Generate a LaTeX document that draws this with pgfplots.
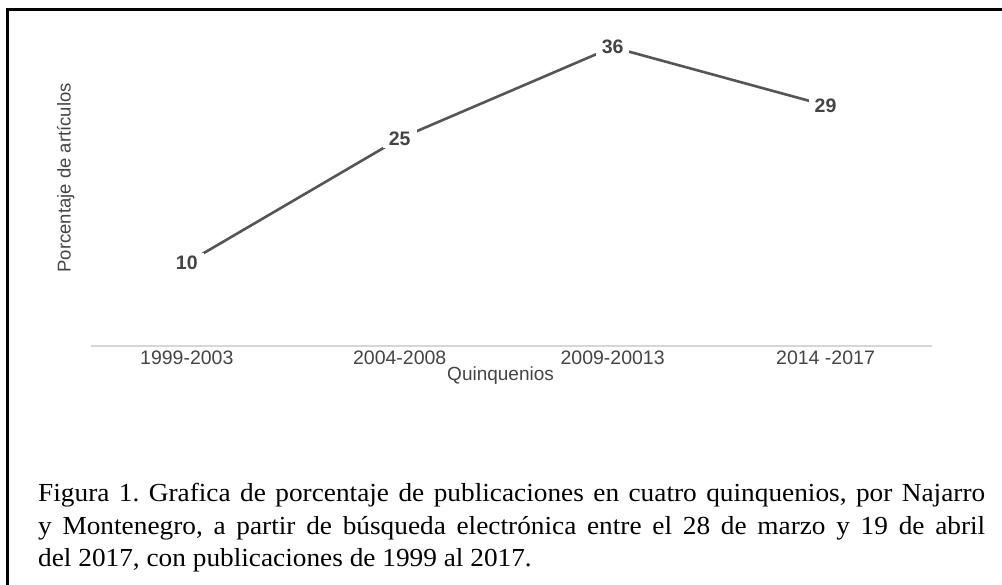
\documentclass[border=0pt]{standalone}
\usepackage{fontspec}
\setmainfont{Liberation Serif}
\setsansfont{Liberation Sans}
\newfontfamily\capfont[FakeStretch=1.05]{Liberation Serif}
\usepackage{pgfplots}
\pgfplotsset{compat=1.18}
\definecolor{linegray}{HTML}{555555}
\definecolor{labgray}{HTML}{444444}
\definecolor{basegray}{HTML}{D6D6D6}
\frenchspacing
\begin{document}
\begin{tikzpicture}
  \useasboundingbox (0pt,0pt) rectangle (1002pt,585pt);
  % marco de la figura
  \draw[black, line width=3pt] (7pt,0pt) -- (7pt,575pt) -- (1004pt,575pt);
  \begin{axis}[
      at={(91pt,239pt)}, anchor=south west,
      scale only axis,
      width=841pt, height=315.4pt,
      xmin=-0.45, xmax=3.5,
      ymin=0, ymax=38,
      axis x line*=bottom,
      axis y line*=left,
      x axis line style={draw=basegray, line width=1.3pt, -},
      y axis line style={draw=none},
      xtick={0,1,2,3},
      xticklabels={1999-2003,2004-2008,2009-20013,2014 -2017},
      xtick style={draw=none},
      ytick=\empty,
      /pgf/number format/assume math mode=true,
      xticklabel style={font=\sffamily\fontsize{19.5}{22}\selectfont, text=labgray, yshift=-1pt},
      xlabel={Quinquenios},
      xlabel style={at={(rel axis cs:0.487,0)}, anchor=center, yshift=-30pt,
        font=\sffamily\fontsize{19}{22}\selectfont, text=labgray},
      ylabel={Porcentaje de artículos},
      ylabel style={at={(rel axis cs:-0.030,0.533)}, anchor=center,
        font=\sffamily\fontsize{18.5}{22}\selectfont, text=labgray},
      clip=false,
    ]
    \addplot[color=linegray, line width=2.6pt,
      nodes near coords,
      every node near coord/.append style={anchor=center, fill=white,
        inner xsep=6pt, inner ysep=3pt,
        font=\sffamily\bfseries\fontsize{19.5}{22}\selectfont, text=labgray},
    ] coordinates {
      (0,10) (1,25) (2,36) (3,29)
    };
  \end{axis}
  % pie de figura
  \node[anchor=base west, inner sep=0pt] at (38pt,83pt)
    {\capfont\fontsize{26}{30}\selectfont\makebox[947pt][s]{Figura 1. Grafica de porcentaje de publicaciones en cuatro quinquenios, por Najarro}};
  \node[anchor=base west, inner sep=0pt] at (38pt,50pt)
    {\capfont\fontsize{26}{30}\selectfont\makebox[947pt][s]{y Montenegro, a partir de búsqueda electrónica entre el 28 de marzo y 19 de abril}};
  \node[anchor=base west, inner sep=0pt] at (38pt,18pt)
    {\capfont\fontsize{26}{30}\selectfont del 2017, con publicaciones de 1999 al 2017.};
\end{tikzpicture}
\end{document}
